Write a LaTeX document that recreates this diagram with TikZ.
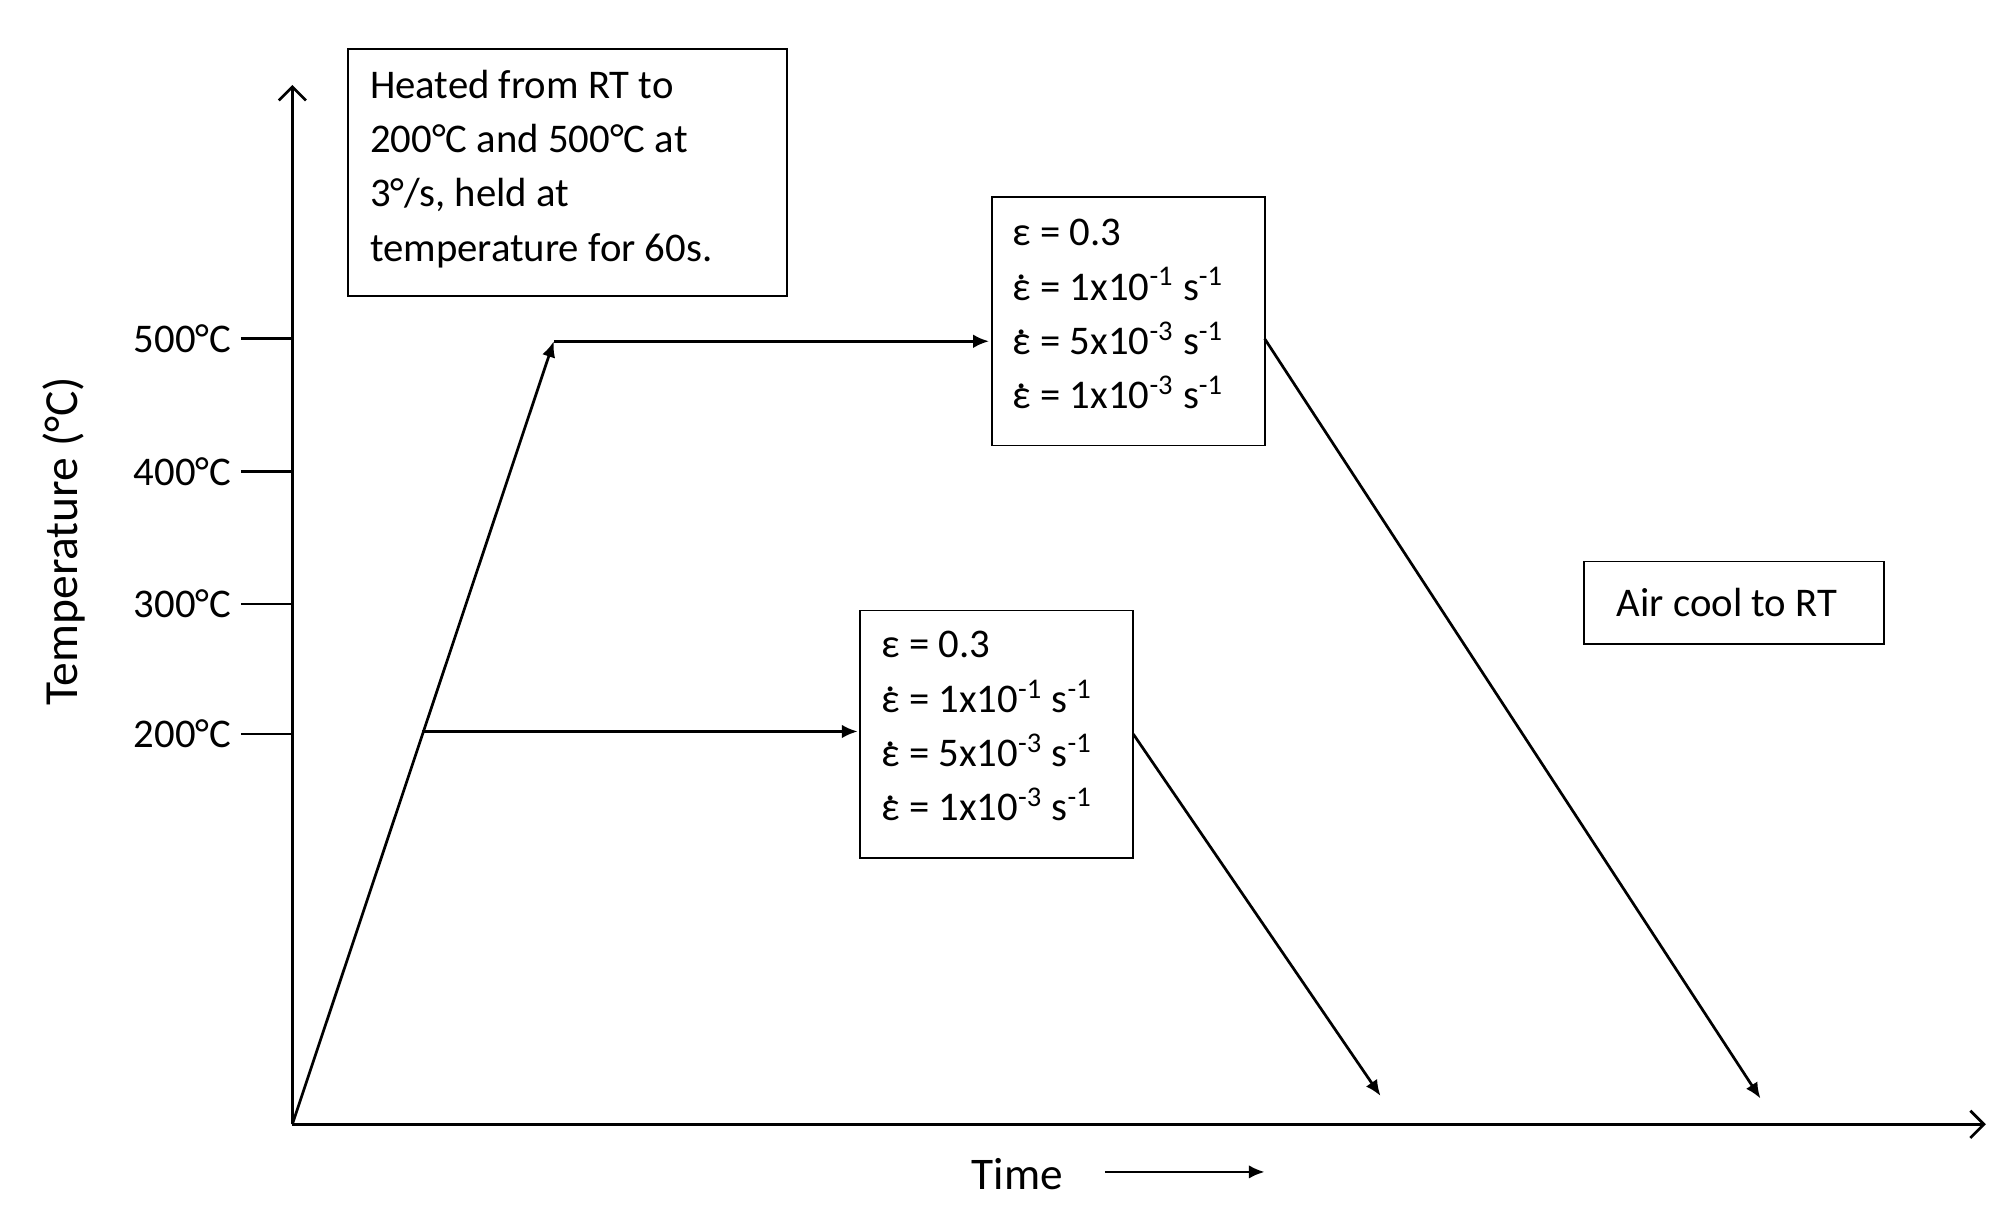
\documentclass[tikz,border=0pt]{standalone}
\usepackage{fontspec}
\setmainfont{Carlito}
\usetikzlibrary{arrows.meta}
\newcommand\edotx{\ooalign{ε\cr\hidewidth\raisebox{0.5em}{.}\hidewidth\cr}}
\begin{document}
\begin{tikzpicture}[x=0.02cm,y=-0.02cm,
  every node/.style={font=\fontsize{18pt}{22pt}\selectfont},
  ar/.style={-{Latex[length=7pt,width=6pt]},line width=1.2pt},
  ln/.style={line width=1.2pt},
  fr/.style={line width=0.8pt}]
\useasboundingbox (0,0) rectangle (1560,950);
\coordinate (o) at (227,873);
\coordinate (ytop) at (227,66);
\coordinate (xend) at (1542,873);
\draw[ln,-{Straight Barb[length=6pt,width=12pt]}] (o) -- (ytop);
\draw[ln,-{Straight Barb[length=6pt,width=12pt]}] (o) -- (xend);
\foreach \t/\y in {500/263,400/366,300/469,200/570}{
  \coordinate (t\t) at (187,\y);
  \coordinate (a\t) at (227,\y);
  \draw[ln] (t\t) -- (a\t);
  \node[anchor=east,inner sep=4pt] (l\t) at (t\t) {\t°C};
}
\node[rotate=90,font=\fontsize{21pt}{25pt}\selectfont] (ylab) at (50,420) {Temperature (°C)};
\node[font=\fontsize{20pt}{24pt}\selectfont] (time) at (790,912) {Time};
\coordinate (ta) at (858,910);
\coordinate (tb) at (982,910);
\draw[ar] (ta) -- (tb);
\draw[fr] (270,38) rectangle (611,230);
\node[anchor=north west,align=left,inner sep=0pt] (infot) at (287,54)
  {Heated from RT to\\[2pt]200°C and 500°C at\\[2pt]3°/s, held at\\[2pt]temperature for 60s.};
\coordinate (b1nw) at (770,153);
\coordinate (b1se) at (982,346);
\draw[fr] (b1nw) rectangle (b1se);
\node[anchor=north west,align=left,inner sep=0pt] (b1) at (786,170)
  {ε = 0.3\\[2pt]\edotx{} = 1x10\textsuperscript{-1} s\textsuperscript{-1}\\[2pt]\edotx{} = 5x10\textsuperscript{-3} s\textsuperscript{-1}\\[2pt]\edotx{} = 1x10\textsuperscript{-3} s\textsuperscript{-1}};
\coordinate (b2nw) at (668,474);
\coordinate (b2se) at (880,666);
\draw[fr] (b2nw) rectangle (b2se);
\node[anchor=north west,align=left,inner sep=0pt] (b2) at (684,490)
  {ε = 0.3\\[2pt]\edotx{} = 1x10\textsuperscript{-1} s\textsuperscript{-1}\\[2pt]\edotx{} = 5x10\textsuperscript{-3} s\textsuperscript{-1}\\[2pt]\edotx{} = 1x10\textsuperscript{-3} s\textsuperscript{-1}};
\coordinate (acnw) at (1230,436);
\coordinate (acse) at (1463,500);
\draw[fr] (acnw) rectangle (acse);
\node (ac) at (1341,468) {Air cool to RT};
\coordinate (p500) at (430,265);
\coordinate (p200) at (328,568);
\coordinate (e500) at (768,265);
\coordinate (e200) at (666,568);
\coordinate (c1s) at (982,263);
\coordinate (c1e) at (1367,853);
\coordinate (c2s) at (880,570);
\coordinate (c2e) at (1072,851);
\draw[ar] (o) -- (p500);
\draw[ar] (p500) -- (e500);
\draw[ar] (p200) -- (e200);
\draw[ar] (c1s) -- (c1e);
\draw[ar] (c2s) -- (c2e);
\end{tikzpicture}
\end{document}
